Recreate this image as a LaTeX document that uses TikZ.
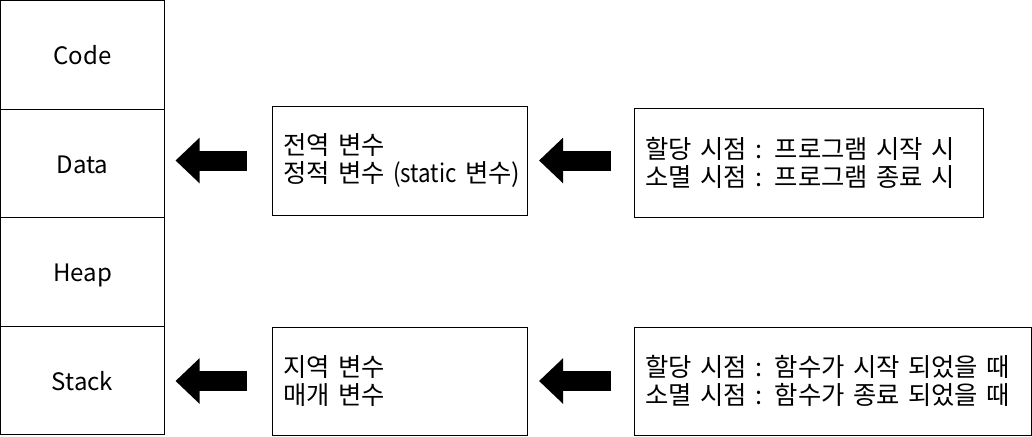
\documentclass[tikz,border=0pt]{standalone}
\usepackage{fontspec}
\setmainfont{Noto Sans CJK KR}
\usetikzlibrary{arrows.meta, positioning}
\tikzset{
    segbox/.style={
        rectangle, draw=black, line width=0.75pt,
        minimum width=123pt, minimum height=81.4pt,
        inner sep=0pt, outer sep=0pt,
        text height=16pt, text depth=1pt,
        font=\fontsize{18}{20}\selectfont
    },
    varbox/.style={
        rectangle, draw=black, line width=0.75pt,
        text width=#1, inner xsep=8.25pt, inner ysep=0pt,
        align=left, outer sep=0pt,
        font=\fontsize{19}{21}\selectfont
    },
    blockarrow/.style={-{Triangle[length=18pt, width=33pt]}, line width=15pt, black}
}
\begin{document}
\begin{tikzpicture}[x=0.75pt, y=-0.75pt]
    \useasboundingbox (0,0) rectangle (1032,436);

    % Memory segments
    \node[segbox] (code) at (82.5,54.75) {Code};
    \node[segbox, below=0pt of code] (data) {Data};
    \node[segbox, below=0pt of data] (heap) {Heap};
    \node[segbox, below=0pt of heap] (stack) {Stack};

    % Variables
    \node[varbox=174.75pt, minimum height=81.75pt] (globalvar) at (399.5,160.5)
        {전역 변수\\\mbox{정적 변수 {\addfontfeature{FakeStretch=0.88}(static} 변수)}};
    \node[varbox=174.75pt, minimum height=81pt] (localvar) at (399.5,381)
        {지역 변수\\매개 변수};

    % Lifetimes
    \node[varbox=245.25pt, minimum height=81.75pt] (globallife) at (808.5,162.5)
        {할당 시점 : 프로그램 시작 시\\소멸 시점 : 프로그램 종료 시};
    \node[varbox=281.25pt, minimum height=81pt] (locallife) at (832.5,381)
        {할당 시점 : 함수가 시작 되었을 때\\소멸 시점 : 함수가 종료 되었을 때};

    % Arrows
    \draw[blockarrow, shorten <=18.75pt, shorten >=8.25pt] (globalvar.west) -- (globalvar.west -| data.east);
    \draw[blockarrow, shorten <=18.75pt, shorten >=8.25pt] (localvar.west) -- (localvar.west -| stack.east);
    \draw[blockarrow, shorten <=17.25pt, shorten >=9pt] (globallife.west |- globalvar.west) -- (globalvar.west -| globalvar.east);
    \draw[blockarrow, shorten <=17.25pt, shorten >=9pt] (locallife.west) -- (localvar.east);
\end{tikzpicture}
\end{document}
